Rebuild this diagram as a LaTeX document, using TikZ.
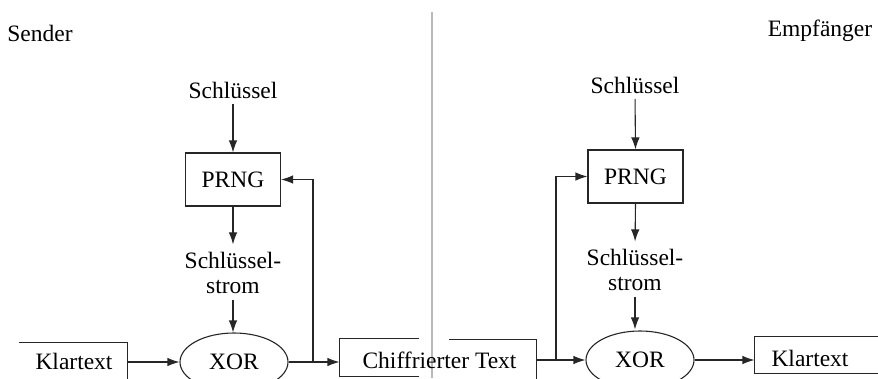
\documentclass[tikz,border=0pt]{standalone}
\usepackage{fontspec}
\setmainfont{Liberation Serif}
\usetikzlibrary{arrows.meta,shapes.geometric}
\begin{document}
\begin{tikzpicture}[x=1pt,y=-1pt,
  font=\fontsize{23.5}{25.5}\selectfont,
  line width=1.1pt, draw=black!85,
  arr/.style={-{Latex[length=12pt,width=8.5pt]}},
  lbl/.style={inner sep=0pt, align=center},
  box/.style={draw, minimum width=95pt, minimum height=53pt, inner sep=0pt},
  xor/.style={draw, ellipse, minimum width=108pt, minimum height=58pt, inner sep=0pt},
  frame/.style={inner sep=0pt, minimum width=#1}]
\useasboundingbox (0,0) rectangle (878,378);
\clip (0,0) rectangle (878,378);

% titles and divider
\node[lbl] (sender) at (40,33) {Sender};
\node[lbl] (empf) at (820,31) {Empfänger};
\draw[gray!55, line width=1.3pt] (432,12) -- (432,378);

% ---------- sender ----------
\node[lbl] (key1) at (233,90) {Schlüssel};
\node[box] (prng1) at (233,179.5) {PRNG};
\node[lbl] (ks1) at (233,273) {Schlüssel-\\strom};
\node[xor] (xor1) at (234,362) {XOR};

\node[frame=107pt, minimum height=37pt] (kt1f) at (73.5,361.5) {};
\node[lbl] (kt1) at (74,361) {Klartext};
\draw (kt1f.north west) -- (kt1f.north east) -- (kt1f.south east);

\draw[arr, shorten <=5pt] (key1.south) -- (prng1.north);
\draw[arr, shorten >=7pt] (prng1.south) -- (ks1.north);
\draw[arr, shorten <=5pt] (ks1.south) -- (ks1.south |- xor1.north);
\draw[arr] (kt1f.east |- xor1.west) -- (xor1.west);

% ---------- ciphertext ----------
\node[frame=78pt, minimum height=37pt] (cbl) at (379,357.5) {};
\node[frame=86pt, minimum height=38pt] (cbr) at (493,359) {};
\node[lbl] (ct) at (439.5,360) {Chiffrierter Text};
\draw (cbl.north east) -- (cbl.north west) -- (cbl.south west) -- (cbl.south east);
\draw (cbr.north west) -- (cbr.north east) -- (cbr.south east);

\draw[arr] (xor1.east) -- (cbl.west |- xor1.east);
\coordinate (b1) at (313,362);
\draw[arr] (b1) |- (prng1.east);

% ---------- receiver ----------
\node[lbl] (key2) at (635,85) {Schlüssel};
\node[box] (prng2) at (635.5,176.5) {PRNG};
\node[lbl] (ks2) at (635,270) {Schlüssel-\\strom};
\node[xor] (xor2) at (640,360) {XOR};

\node[frame=123pt, minimum height=36pt] (kt2f) at (816.5,355) {};
\node[lbl] (kt2) at (810,358) {Klartext};
\draw (kt2f.north east) -- (kt2f.north west) -- (kt2f.south west) -- (kt2f.south east);

\draw[arr, shorten <=5pt] (key2.south) -- (prng2.north);
\draw[arr, shorten >=7pt] (prng2.south) -- (ks2.north);
\draw[arr, shorten <=5pt, shorten >=1pt] (ks2.south) -- (ks2.south |- xor2.north);
\draw[arr] (cbr.east |- xor2.west) -- (xor2.west);
\coordinate (b2) at (556,360);
\draw[arr] (b2) |- (prng2.west);
\draw[arr] (xor2.east) -- (kt2f.west |- xor2.east);
\end{tikzpicture}
\end{document}
